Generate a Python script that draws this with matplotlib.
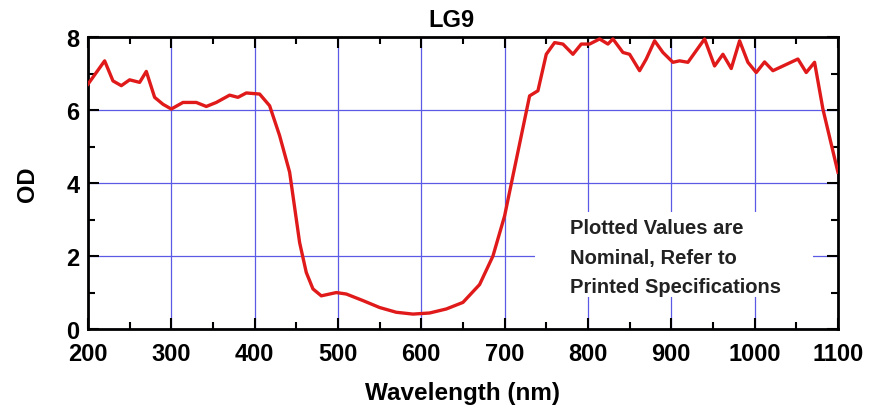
import matplotlib
matplotlib.use("Agg")
import matplotlib.pyplot as plt
from matplotlib.ticker import MultipleLocator
from matplotlib.patches import Rectangle

plt.rcParams['font.family'] = ['Liberation Sans', 'DejaVu Sans']

wavelength = [200, 220, 230, 240, 250, 262, 270, 280, 290, 300, 314, 330, 342, 354,
              370, 380, 390, 406, 418, 430, 442, 454, 462, 470, 480, 498, 510, 530,
              550, 570, 590, 610, 630, 650, 670, 686, 700, 710, 730, 740, 750, 760,
              770, 782, 792, 802, 814, 824, 830, 842, 850, 862, 870, 880, 890, 902,
              910, 920, 940, 952, 962, 972, 982, 992, 1002, 1012, 1022, 1052, 1062,
              1072, 1082, 1100]
od = [6.71, 7.35, 6.80, 6.67, 6.83, 6.76, 7.06, 6.35, 6.16, 6.03, 6.21, 6.21, 6.10, 6.21,
      6.41, 6.35, 6.47, 6.44, 6.12, 5.30, 4.30, 2.37, 1.55, 1.10, 0.91, 1.00, 0.96, 0.78,
      0.59, 0.46, 0.41, 0.44, 0.55, 0.73, 1.22, 2.00, 3.10, 4.20, 6.39, 6.53, 7.53, 7.85,
      7.81, 7.53, 7.81, 7.81, 7.95, 7.81, 7.95, 7.58, 7.53, 7.08, 7.40, 7.90, 7.58, 7.31,
      7.35, 7.31, 7.95, 7.21, 7.53, 7.14, 7.90, 7.31, 7.03, 7.32, 7.08, 7.40, 7.03,
      7.31, 6.03, 4.30]

title = "LG9"
xlabel = "Wavelength (nm)"
ylabel = "OD"
note = "Plotted Values are\nNominal, Refer to\nPrinted Specifications"

fig = plt.figure(figsize=(8.71, 4.10), dpi=100)
ax = fig.add_axes([0.101, 0.195, 0.861, 0.712])

ax.plot(wavelength, od, color='#e01a1a', lw=2.4, zorder=3, clip_on=True)
ax.set_xlim(200, 1100)
ax.set_ylim(0, 8)
ax.xaxis.set_major_locator(MultipleLocator(100))
ax.xaxis.set_minor_locator(MultipleLocator(50))
ax.yaxis.set_major_locator(MultipleLocator(2))
ax.yaxis.set_minor_locator(MultipleLocator(1))
ax.grid(True, which='major', color='#5a5ae6', lw=0.9, zorder=1)
ax.tick_params(which='both', direction='in', top=True, right=True, width=1.5, color='black')
ax.tick_params(which='major', length=8, labelsize=17)
ax.tick_params(axis='x', which='major', pad=9)
ax.tick_params(axis='y', which='major', pad=6)
ax.tick_params(which='minor', length=5)
for lab in ax.get_xticklabels() + ax.get_yticklabels():
    lab.set_fontweight('bold')
for s in ax.spines.values():
    s.set_linewidth(2)

ax.set_title(title, fontsize=17, fontweight='bold', pad=8, x=0.484)
ax.set_xlabel(xlabel, fontsize=17.5, fontweight='bold', labelpad=12)
ax.set_ylabel(ylabel, fontsize=17, fontweight='bold', labelpad=20)

# white panel behind the note (hides grid lines like the reference)
ax.add_patch(Rectangle((0.596, 0.11), 0.371, 0.29, transform=ax.transAxes,
                       facecolor='white', edgecolor='none', zorder=2))
ax.text(778, 1.97, note, fontsize=14.5, fontweight='bold', color='#222222',
        ha='left', va='center', linespacing=1.68, zorder=2.5)

fig.savefig('out.png', dpi=100)
